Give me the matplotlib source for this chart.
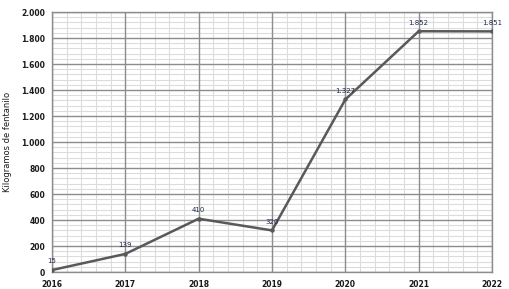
import matplotlib
matplotlib.use("Agg")
import matplotlib.pyplot as plt
from matplotlib.ticker import MultipleLocator, FuncFormatter

years = [2016, 2017, 2018, 2019, 2020, 2021, 2022]
kilos = [15, 139, 410, 320, 1327, 1852, 1851]
point_labels = ["15", "139", "410", "320", "1.327", "1.852", "1.851"]


def miles(value, _pos):
    return f"{int(value):,}".replace(",", ".")


fig = plt.figure(figsize=(5.10, 2.89), dpi=100)
ax = fig.add_axes([52 / 510, 17 / 289, 440 / 510, 260 / 289])

ax.plot(years, kilos, color="#595959", linewidth=1.8, marker="o", markersize=2.2, zorder=3)
for x, y, text in zip(years, kilos, point_labels):
    ax.annotate(text, (x, y), xytext=(0, 4), textcoords="offset points",
                ha="center", va="bottom", fontsize=5, color="#1f2a4d", zorder=4)

ax.set_xlim(years[0], years[-1])
ax.set_ylim(0, 2000)
ax.xaxis.set_major_locator(MultipleLocator(1))
ax.yaxis.set_major_locator(MultipleLocator(200))
ax.yaxis.set_major_formatter(FuncFormatter(miles))

# minor grid drawn by hand so it stays under both major grids
for yr in years[:-1]:
    for k in range(1, 5):
        ax.axvline(yr + k / 5, color="#dcdcdc", linewidth=0.8, zorder=0.1)
for v in range(40, 2000, 40):
    if v % 200:
        ax.axhline(v, color="#dcdcdc", linewidth=0.8, zorder=0.1)

ax.grid(which="major", color="#8c8c8c", linewidth=1)
ax.set_axisbelow(True)
ax.tick_params(which="both", length=0)
ax.tick_params(axis="both", labelsize=5.5, colors="#1a1a1a")
for label in ax.get_xticklabels() + ax.get_yticklabels():
    label.set_fontweight("bold")
ax.tick_params(axis="x", pad=6)
ax.tick_params(axis="y", pad=5)
for spine in ax.spines.values():
    spine.set_color("#8c8c8c")
    spine.set_linewidth(1)

ax.set_ylabel("Kilogramos de fentanilo", fontsize=6, color="#1a1a1a")
ax.yaxis.set_label_coords(-0.091, 0.5)

fig.savefig("out.png", dpi=100)
